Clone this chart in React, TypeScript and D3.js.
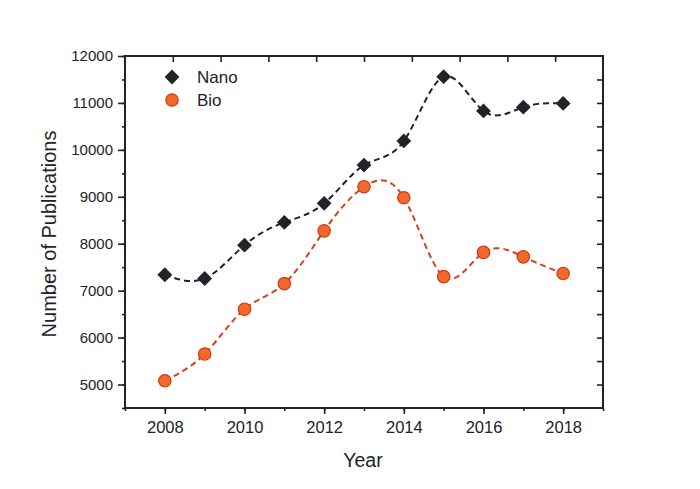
import React, { useEffect, useRef } from 'react';
import * as d3 from 'd3';

const years = [2008, 2009, 2010, 2011, 2012, 2013, 2014, 2015, 2016, 2017, 2018];
const nano = [7340, 7260, 7970, 8455, 8860, 9675, 10190, 11560, 10830, 10910, 10990];
const bio = [5080, 5650, 6605, 7150, 8275, 9215, 8980, 7300, 7815, 7720, 7365];
const xTicks = [2008, 2010, 2012, 2014, 2016, 2018];
const yTicks = [5000, 6000, 7000, 8000, 9000, 10000, 11000, 12000];

const W = 700;
const H = 489;
const FONT = '"Liberation Sans", Arial, sans-serif';
const INK = '#222228';

const App: React.FC = () => {
  const ref = useRef<SVGSVGElement | null>(null);

  useEffect(() => {
    if (!ref.current) return;
    const svg = d3.select(ref.current);
    svg.selectAll('*').remove();

    const margin = { top: 56, right: 97, bottom: 81, left: 125 };
    const iw = W - margin.left - margin.right;
    const ih = H - margin.top - margin.bottom;

    const x = d3.scaleLinear().domain([2007, 2019]).range([0, iw]);
    const y = d3.scaleLinear().domain([4500, 12000]).range([ih, 0]);

    const g = svg.append('g').attr('transform', `translate(${margin.left},${margin.top})`);

    // curves
    const line = d3
      .line<number>()
      .x((_, i) => x(years[i]))
      .y(d => y(d))
      .curve(d3.curveNatural);

    g.append('path')
      .datum(bio)
      .attr('fill', 'none')
      .attr('stroke', '#d8401c')
      .attr('stroke-width', 2)
      .attr('stroke-dasharray', '6,4')
      .attr('d', line);

    g.append('path')
      .datum(nano)
      .attr('fill', 'none')
      .attr('stroke', INK)
      .attr('stroke-width', 2)
      .attr('stroke-dasharray', '6,4')
      .attr('d', line);

    const diamond = d3.symbol().type(d3.symbolSquare).size(110);

    g.selectAll('path.nano')
      .data(nano)
      .enter()
      .append('path')
      .attr('class', 'nano')
      .attr('d', diamond)
      .attr('transform', (d, i) => `translate(${x(years[i])},${y(d)}) rotate(45)`)
      .attr('fill', INK);

    g.selectAll('circle.bio')
      .data(bio)
      .enter()
      .append('circle')
      .attr('class', 'bio')
      .attr('cx', (_, i) => x(years[i]))
      .attr('cy', d => y(d))
      .attr('r', 6.2)
      .attr('fill', '#f26a2a')
      .attr('stroke', '#d0381a')
      .attr('stroke-width', 1.2);

    // axes
    const styleAxis = (size: number) => (sel: d3.Selection<SVGGElement, unknown, null, undefined>) => {
      sel.select('.domain').remove();
      sel.selectAll('line').attr('stroke', INK).attr('stroke-width', 1.6);
      sel
        .selectAll('text')
        .attr('fill', INK)
        .style('font-family', FONT)
        .style('font-size', `${size}px`);
    };

    g.append('g')
      .attr('transform', `translate(0,${ih})`)
      .call(
        d3
          .axisBottom(x)
          .tickValues(xTicks)
          .tickFormat(d3.format('d') as any)
          .tickSize(6)
          .tickPadding(7),
      )
      .call(styleAxis(16.5));
    g.append('g')
      .attr('transform', `translate(0,${ih})`)
      .call(d3.axisBottom(x).tickValues(d3.range(2007, 2020, 1)).tickFormat(() => '').tickSize(3))
      .call(styleAxis(15));

    g.append('g')
      .call(d3.axisLeft(y).tickValues(yTicks).tickFormat(d3.format('d') as any).tickSize(7).tickPadding(5))
      .call(styleAxis(15));
    g.append('g')
      .call(d3.axisLeft(y).tickValues(d3.range(4500, 12001, 500)).tickFormat(() => '').tickSize(3))
      .call(styleAxis(15));

    // top axis: ticks at tenths of the frame
    const xf = d3.scaleLinear().domain([0, 10]).range([0, iw]);
    g.append('g')
      .call(d3.axisBottom(xf).tickValues(d3.range(1, 10)).tickFormat(() => '').tickSize(6))
      .call(styleAxis(15));

    g.append('g')
      .attr('transform', `translate(${iw},0)`)
      .call(d3.axisLeft(y).tickValues(d3.range(5000, 12000, 500)).tickFormat(() => '').tickSize(6))
      .call(styleAxis(15));

    // frame
    g.append('rect')
      .attr('width', iw)
      .attr('height', ih)
      .attr('fill', 'none')
      .attr('stroke', INK)
      .attr('stroke-width', 2);

    // legend
    const lg = g.append('g').attr('transform', 'translate(47,21)');
    lg.append('path').attr('d', diamond).attr('transform', 'rotate(45)').attr('fill', INK);
    lg.append('text')
      .attr('x', 25)
      .attr('y', 6)
      .attr('fill', INK)
      .style('font-family', FONT)
      .style('font-size', '17px')
      .text('Nano');
    lg.append('circle')
      .attr('cx', 0)
      .attr('cy', 23)
      .attr('r', 6.2)
      .attr('fill', '#f26a2a')
      .attr('stroke', '#d0381a')
      .attr('stroke-width', 1.2);
    lg.append('text')
      .attr('x', 25)
      .attr('y', 29)
      .attr('fill', INK)
      .style('font-family', FONT)
      .style('font-size', '17px')
      .text('Bio');

    // axis titles
    svg.append('text')
      .attr('x', 363)
      .attr('y', 467)
      .attr('text-anchor', 'middle')
      .attr('fill', INK)
      .style('font-family', FONT)
      .style('font-size', '19.5px')
      .text('Year');
    svg.append('text')
      .attr('transform', `translate(56,234) rotate(-90)`)
      .attr('text-anchor', 'middle')
      .attr('fill', INK)
      .style('font-family', FONT)
      .style('font-size', '20px')
      .text('Number of Publications');
  }, []);

  return (
    <svg
      ref={ref}
      width={W}
      height={H}
      style={{ position: 'absolute', left: 0, top: 0, background: '#fff' }}
    />
  );
};

export default App;
